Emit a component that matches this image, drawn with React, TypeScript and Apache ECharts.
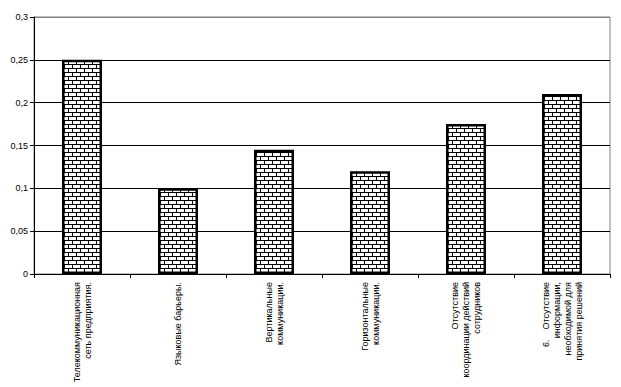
import React, { useEffect, useRef } from "react";
import * as echarts from "echarts";

const categories = [
  "Телекоммуникационная\nсеть предприятия.",
  "Языковые барьеры.",
  "Вертикальные\nкоммуникации.",
  "Горизонтальные\nкоммуникации.",
  "Отсутствие\nкоординации действий\nсотрудников",
  "6.    Отсутствие\nинформации,\nнеобходимой для\nпринятия решений",
];
const values = [0.25, 0.1, 0.145, 0.12, 0.175, 0.21];
const yMin = 0;
const yMax = 0.3;
const yInterval = 0.05;

function makeBrick(): HTMLCanvasElement {
  const c = document.createElement("canvas");
  c.width = 8;
  c.height = 8;
  const ctx = c.getContext("2d")!;
  ctx.fillStyle = "#ffffff";
  ctx.fillRect(0, 0, 8, 8);
  ctx.fillStyle = "#000000";
  ctx.fillRect(0, 0, 8, 1);
  ctx.fillRect(0, 4, 8, 1);
  ctx.fillRect(0, 1, 1, 3);
  ctx.fillRect(4, 5, 1, 3);
  return c;
}

export default function App() {
  const ref = useRef<HTMLDivElement>(null);
  useEffect(() => {
    if (!ref.current) return;
    const chart = echarts.init(ref.current, undefined, { renderer: "svg" });
    const brick = makeBrick();
    chart.setOption({
      animation: false,
      backgroundColor: "#ffffff",
      grid: {
        left: 34,
        right: 11,
        top: 17,
        bottom: 113,
        show: true,
        borderColor: "#808080",
        borderWidth: 1,
        backgroundColor: "transparent",
      },
      xAxis: {
        type: "category",
        data: categories,
        axisLine: { lineStyle: { color: "#000", width: 1 } },
        axisTick: { show: true, length: 4, lineStyle: { color: "#000" } },
        axisLabel: {
          interval: 0,
          rotate: 90,
          fontFamily: "Liberation Sans, Arial, sans-serif",
          fontSize: 9,
          lineHeight: 11,
          color: "#000",
          margin: 8,
        },
      },
      yAxis: {
        type: "value",
        min: yMin,
        max: yMax,
        interval: yInterval,
        axisLine: { show: true, lineStyle: { color: "#000", width: 1 } },
        axisTick: { show: true, length: 4, lineStyle: { color: "#000" } },
        splitLine: {
          show: true,
          lineStyle: {
            color: ["#000", "#000", "#000", "#000", "#000", "#000", "#808080"],
            width: 1,
          },
        },
        axisLabel: {
          fontFamily: "Liberation Sans, Arial, sans-serif",
          fontSize: 9,
          color: "#000",
          margin: 6,
          formatter: (v: number) => String(Math.round(v * 100) / 100).replace(".", ","),
        },
      },
      series: [
        {
          type: "bar",
          data: values,
          barWidth: 40,
          itemStyle: {
            color: { image: brick, repeat: "repeat" },
            borderColor: "#000",
            borderWidth: 2.5,
          },
        },
      ],
    });
    return () => chart.dispose();
  }, []);
  return <div ref={ref} style={{ width: 621, height: 387, position: "absolute", left: 0, top: 0 }} />;
}
